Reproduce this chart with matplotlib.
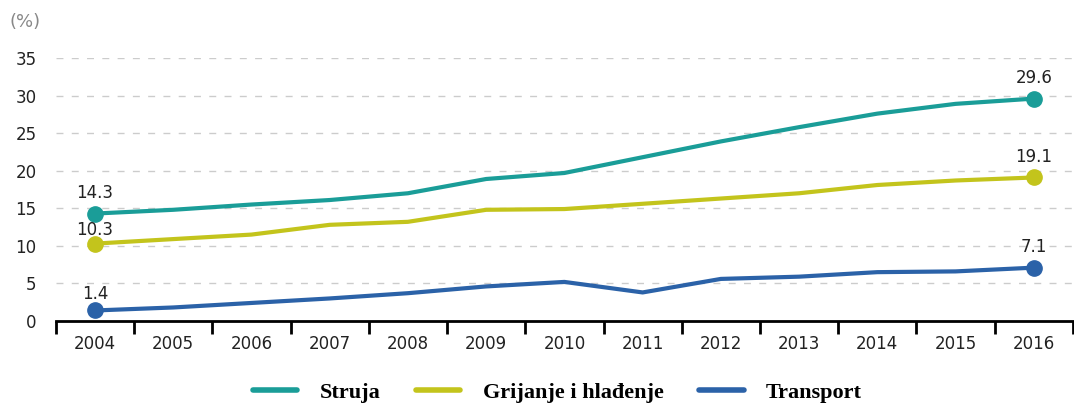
import matplotlib.pyplot as plt
import numpy as np

years = ['2004', '2005', '2006', '2007', '2008', '2009', '2010',
         '2011', '2012', '2013', '2014', '2015', '2016']
struja = [14.3, 14.8, 15.5, 16.1, 17.0, 18.9, 19.7, 21.8, 23.9, 25.8, 27.6, 28.9, 29.6]
grijanje = [10.3, 10.9, 11.5, 12.8, 13.2, 14.8, 14.9, 15.6, 16.3, 17.0, 18.1, 18.7, 19.1]
transport = [1.4, 1.8, 2.4, 3.0, 3.7, 4.6, 5.2, 3.8, 5.6, 5.9, 6.5, 6.6, 7.1]
names = ['Struja', 'Grijanje i hlađenje', 'Transport']
colors = ['#1a9d98', '#c3c41c', '#2b62a8']
yticks = [0, 5, 10, 15, 20, 25, 30, 35]
# label offsets (points) above first / last marker
offsets = [(15, 15), (10, 15), (12, 15)]

fig = plt.figure(figsize=(10.74, 4.03), dpi=100)
ax = fig.add_axes([0.052, 0.2035, 0.947, 0.6525])
x = np.arange(len(years))

for vals, name, c, off in zip([struja, grijanje, transport], names, colors, offsets):
    ax.plot(x, vals, color=c, lw=3, label=name, solid_capstyle='round', zorder=3)
    ax.plot([x[0], x[-1]], [vals[0], vals[-1]], 'o', color=c, ms=11, zorder=4)
    for i, dy in zip((0, len(x) - 1), off):
        ax.annotate(f'{vals[i]:.1f}', (x[i], vals[i]), xytext=(0, dy),
                    textcoords='offset points', ha='center', va='center',
                    fontsize=12, color='#222222', zorder=5)

ax.set_xlim(-0.5, len(years) - 0.5)
ax.set_ylim(0, 35)
ax.set_yticks(yticks)
for t in yticks[1:]:
    ax.axhline(t, color='#cccccc', lw=1, ls=(0, (5, 6)), zorder=1)

ax.set_xticks(x)
ax.set_xticklabels(years)
ax.set_xticks(np.arange(-0.5, len(years)), minor=True)
ax.tick_params(axis='x', which='major', length=0, labelsize=12, pad=10, labelcolor='#222222')
ax.tick_params(axis='x', which='minor', length=9, width=2, color='black', direction='out')
ax.tick_params(axis='y', length=0, labelsize=12, pad=14, labelcolor='#222222')

for s in ['top', 'right', 'left']:
    ax.spines[s].set_visible(False)
ax.spines['bottom'].set_linewidth(2)

fig.text(0.009, 0.945, '(%)', fontsize=13, color='#888888', va='center')

leg = fig.legend(loc='center', bbox_to_anchor=(0.519, 0.025), ncol=3, frameon=False,
                 handlelength=2.0, columnspacing=1.6, handletextpad=1.0,
                 prop={'family': 'Liberation Serif', 'weight': 'bold', 'size': 16})
for h in leg.get_lines():
    h.set_linewidth(4)

fig.savefig('out.png', dpi=100)
